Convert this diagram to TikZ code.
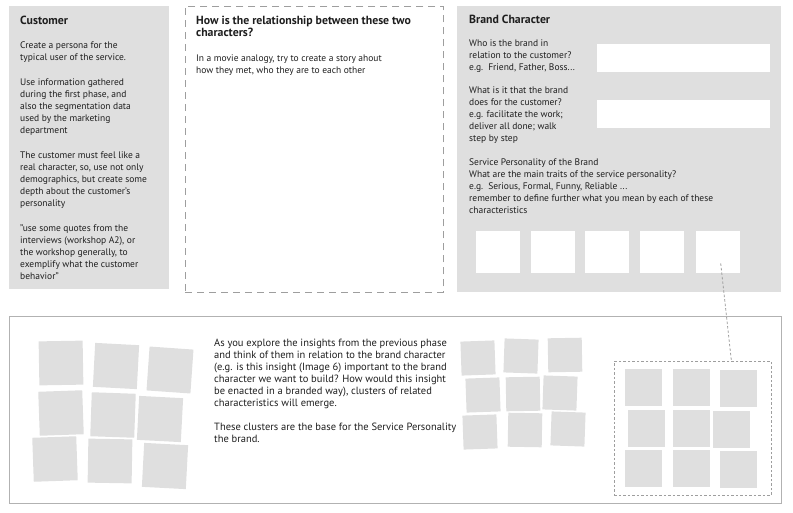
\documentclass[tikz,border=0pt]{standalone}
\usepackage{fontspec}
\setmainfont{PT Sans}
\usepackage{xcolor}

\definecolor{boxgrey}{HTML}{DFDFDF}
\definecolor{dashgrey}{HTML}{9E9E9E}
\definecolor{framegrey}{HTML}{B2B2B2}
\definecolor{inkblack}{HTML}{1E1E1E}

\tikzset{
  panel/.style={fill=boxgrey,anchor=north west,inner sep=0pt},
  slot/.style={fill=white,anchor=north west,inner sep=0pt},
  card/.style={fill=boxgrey,inner sep=0pt,minimum width=#1,minimum height=#1},
  txt/.style={anchor=north west,yshift=9pt,align=left,inner sep=0pt,text=inkblack,
    execute at begin node={\rule{0pt}{9pt}},font=\fontsize{9.5}{12}\selectfont},
  head/.style={txt,font=\fontsize{11.8}{12}\selectfont\bfseries},
  link/.style={draw=dashgrey,line width=0.8pt,dash pattern=on 2.5pt off 2pt}
}

\begin{document}
\begin{tikzpicture}[x=1pt,y=-1pt]
\useasboundingbox (0,0) rectangle (793,512);
% upper panels
\node[panel,minimum width=160pt,minimum height=283pt] (cust) at (9,6) {};
\node[draw=dashgrey,dash pattern=on 7pt off 5pt,line width=0.8pt,anchor=north west,inner sep=0pt,minimum width=258pt,minimum height=286pt] (rel) at (185,6) {};
\node[panel,minimum width=324pt,minimum height=286pt] (brand) at (457,6) {};
\node[slot,minimum width=173pt,minimum height=28pt] (s1) at (597,44) {};
\node[slot,minimum width=173pt,minimum height=28pt] (s2) at (597,100) {};
\node[slot,minimum width=44pt,minimum height=42pt] (p1) at (476,231) {};
\node[slot,minimum width=44pt,minimum height=42pt] (p2) at (531,231) {};
\node[slot,minimum width=44pt,minimum height=42pt] (p3) at (585,231) {};
\node[slot,minimum width=44pt,minimum height=42pt] (p4) at (640,231) {};
\node[slot,minimum width=44pt,minimum height=42pt] (p5) at (696,231) {};

\node[head] (custhd) at (20,24) {Customer};
\node[txt] (custtx) at (20,51) {Create a persona for the\\typical user of the service.\\[13pt]Use information gathered\\during the first phase, and\\also the segmentation data\\used by the marketing\\department\\[13pt]The customer must feel like a\\real character, so, use not only\\demographics, but create some\\depth about the customer's\\personality\\[13pt]"use some quotes from the\\interviews (workshop A2), or\\the workshop generally, to\\exemplify what the customer\\behavior"};

\node[head] (relhd) at (196,25) {How is the relationship between these two\\characters?};
\node[txt] (reltx) at (196,64) {In a movie analogy, try to create a story ahout\\how they met, who they are to each other};

\node[head] (brandhd) at (469,23) {Brand Character};
\node[txt] (q1) at (469,49) {Who is the brand in\\relation to the customer?\\e.g.\ \ Friend, Father, Boss...};
\node[txt] (q2) at (469,96) {What is it that the brand\\does for the customer?\\e.g. facilitate the work;\\deliver all done; walk\\step by step};
\node[txt] (q3) at (469,168) {Service Personality of the Brand\\What are the main traits of the service personality?\\e.g.\ \ Serious, Formal, Funny, Reliable ...\\remember to define further what you mean by each of these\\characteristics};

% lower panel
\node[draw=framegrey,line width=1.3pt,anchor=north west,inner sep=0pt,minimum width=772pt,minimum height=187pt] (wall) at (9,316) {};
\node[txt,font=\fontsize{10.5}{12}\selectfont] (insight) at (214,348) {As you explore the insights from the previous phase\\and think of them in relation to the brand character\\(e.g. is this insight (Image 6) important to the brand\\character we want to build? How would this insight\\be enacted in a branded way), clusters of related\\characteristics will emerge.\\[12pt]These clusters are the base for the Service Personality\\the brand.};

\node[card=44pt,rotate=1] (l1) at (61,363) {};
\node[card=44pt,rotate=-3] (l2) at (116,366) {};
\node[card=44pt,rotate=-4] (l3) at (170,370) {};
\node[card=44pt,rotate=2] (l4) at (61,413) {};
\node[card=44pt,rotate=-2] (l5) at (113,415) {};
\node[card=44pt,rotate=-3] (l6) at (160,419) {};
\node[card=44pt,rotate=2] (l7) at (55,459) {};
\node[card=44pt,rotate=-1] (l8) at (110,461) {};
\node[card=44pt,rotate=-3] (l9) at (165,466) {};

\node[card=34pt,rotate=2] (m1) at (478,358) {};
\node[card=34pt,rotate=-2] (m2) at (521,356) {};
\node[card=34pt,rotate=1] (m3) at (565,355) {};
\node[card=34pt,rotate=2] (m4) at (483,395) {};
\node[card=34pt,rotate=1] (m5) at (523,394) {};
\node[card=34pt,rotate=-2] (m6) at (560,393) {};
\node[card=34pt,rotate=2] (m7) at (480,432) {};
\node[card=34pt,rotate=-1] (m8) at (525,430) {};
\node[card=34pt,rotate=-2] (m9) at (568,429) {};

\node[draw=dashgrey,line width=0.8pt,dash pattern=on 2.5pt off 2pt,anchor=north west,inner sep=0pt,minimum width=157pt,minimum height=134pt] (pick) at (614,361) {};
\node[card=37pt] (r1) at (643,387) {};
\node[card=37pt] (r2) at (691,387) {};
\node[card=37pt] (r3) at (738,388) {};
\node[card=37pt] (r4) at (646,428) {};
\node[card=37pt] (r5) at (691,428) {};
\node[card=37pt] (r6) at (731,429) {};
\node[card=37pt] (r7) at (643,468) {};
\node[card=37pt] (r8) at (691,468) {};
\node[card=37pt] (r9) at (738,469) {};

\draw[link] ([xshift=2.5pt,yshift=10pt]p5.south) -- ([xshift=38.5pt]pick.north);
\end{tikzpicture}
\end{document}
